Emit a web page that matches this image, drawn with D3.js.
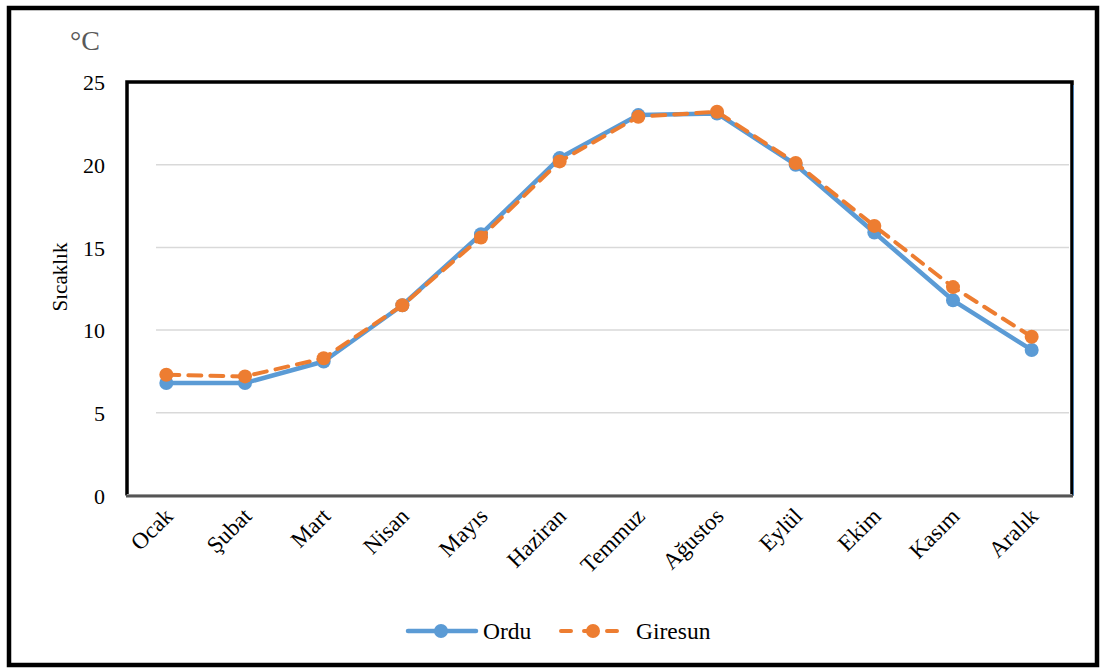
<!DOCTYPE html>
<html>
<head>
<meta charset="utf-8">
<script src="https://cdn.jsdelivr.net/npm/d3@7"></script>
<style>
  html, body { margin: 0; padding: 0; background: #fff; }
  svg { display: block; }
  svg text { font-family: 'Liberation Serif', serif !important; }
</style>
</head>
<body>
<svg id="chart" width="1105" height="670"></svg>
<script>
// Monthly mean temperatures (°C)
const months = ["Ocak", "Şubat", "Mart", "Nisan", "Mayıs", "Haziran", "Temmuz", "Ağustos", "Eylül", "Ekim", "Kasım", "Aralık"];
const ordu = [6.8, 6.8, 8.1, 11.5, 15.8, 20.4, 23.0, 23.1, 20.0, 15.9, 11.8, 8.8];
const giresun = [7.3, 7.2, 8.3, 11.5, 15.6, 20.2, 22.9, 23.2, 20.1, 16.3, 12.6, 9.6];
const yTicks = [0, 5, 10, 15, 20, 25];
const seriesNames = ["Ordu", "Giresun"];

const serif = "'Liberation Serif', serif";
const svg = d3.select("#chart");
const plot = { left: 127, right: 1071, top: 82, bottom: 495.5 };

const x = d3.scaleBand().domain(months).range([plot.left, plot.right]);
const y = d3.scaleLinear().domain([0, 25]).range([plot.bottom, plot.top]);

// Outer frame
svg.append("rect")
  .attr("x", 9).attr("y", 8).attr("width", 1088).attr("height", 657)
  .attr("fill", "none").attr("stroke", "#000").attr("stroke-width", 4.5);

// Horizontal gridlines
svg.append("g").selectAll("line")
  .data(yTicks.filter(d => d > 0 && d < 25))
  .join("line")
  .attr("x1", 156).attr("x2", plot.right - 2)
  .attr("y1", d => y(d)).attr("y2", d => y(d))
  .attr("stroke", "#d9d9d9").attr("stroke-width", 1.5);

// Plot box
svg.append("path")
  .attr("d", `M${plot.left},${plot.bottom} V${plot.top} H${plot.right + 1} V${plot.bottom}`)
  .attr("fill", "none").attr("stroke", "#000").attr("stroke-width", 3.5);
svg.append("line")
  .attr("x1", plot.right + 2.5).attr("x2", plot.right + 2.5)
  .attr("y1", plot.top + 3).attr("y2", plot.bottom)
  .attr("stroke", "#4a7fb5").attr("stroke-width", 1);
svg.append("line")
  .attr("x1", plot.left - 1).attr("x2", plot.right + 2)
  .attr("y1", plot.bottom + 0.5).attr("y2", plot.bottom + 0.5)
  .attr("stroke", "#555").attr("stroke-width", 3);
svg.append("line")
  .attr("x1", plot.left).attr("x2", plot.right + 1)
  .attr("y1", plot.bottom - 1).attr("y2", plot.bottom - 1)
  .attr("stroke", "#999").attr("stroke-width", 1);

// Y axis tick labels
const yAxis = d3.axisLeft(y).tickValues(yTicks).tickSize(0).tickPadding(0);
const yg = svg.append("g").attr("transform", `translate(105,0)`).call(yAxis)
  .attr("font-family", serif);
yg.select(".domain").remove();
yg.selectAll("text")
  .style("font-family", serif)
  .attr("font-size", 22).attr("fill", "#000").attr("dy", "0.35em");

// X axis labels, rotated
const xAxis = d3.axisBottom(x).tickSize(0).tickPadding(0);
const xg = svg.append("g").attr("transform", `translate(0,${plot.bottom})`).call(xAxis)
  .attr("font-family", serif);
xg.select(".domain").remove();
xg.selectAll("text")
  .style("font-family", serif)
  .attr("font-size", 23).attr("fill", "#000")
  .attr("text-anchor", "end")
  .attr("dy", 0).attr("y", 0)
  .attr("transform", "translate(8,22) rotate(-45)");

// Axis titles
svg.append("text")
  .style("font-family", serif)
  .attr("x", 70).attr("y", 50)
  .attr("font-size", 28).attr("fill", "#595959")
  .text("°C");
svg.append("text")
  .style("font-family", serif)
  .attr("transform", "translate(67,277) rotate(-90)")
  .attr("text-anchor", "middle")
  .attr("font-size", 21).attr("fill", "#000")
  .text("Sıcaklık");

// Series
const line = d3.line().x((d, i) => x(months[i]) + x.bandwidth() / 2).y(d => y(d));
const styles = [
  { data: ordu, color: "#5b9bd5", dash: null, width: 4.5 },
  { data: giresun, color: "#ed7d31", dash: "13,9", width: 4 }
];

styles.forEach(s => {
  svg.append("path")
    .datum(s.data)
    .attr("d", line)
    .attr("fill", "none")
    .attr("stroke", s.color)
    .attr("stroke-width", s.width)
    .attr("stroke-linejoin", "round")
    .attr("stroke-linecap", s.dash ? "round" : "butt")
    .attr("stroke-dasharray", s.dash);
  svg.append("g").selectAll("circle")
    .data(s.data)
    .join("circle")
    .attr("cx", (d, i) => x(months[i]) + x.bandwidth() / 2)
    .attr("cy", d => y(d))
    .attr("r", 7)
    .attr("fill", s.color);
});

// Legend
const legendY = 631;
const legendItems = [
  { x0: 408, x1: 476, cx: 441, tx: 483 },
  { x0: 561, x1: 623, cx: 593, tx: 636 }
];
legendItems.forEach((l, i) => {
  const s = styles[i];
  svg.append("line")
    .attr("x1", l.x0).attr("x2", l.x1)
    .attr("y1", legendY).attr("y2", legendY)
    .attr("stroke", s.color).attr("stroke-width", s.width)
    .attr("stroke-linecap", "round")
    .attr("stroke-dasharray", s.dash ? "10,13" : null);
  svg.append("circle")
    .attr("cx", l.cx).attr("cy", legendY).attr("r", 7)
    .attr("fill", s.color);
  svg.append("text")
    .style("font-family", serif)
    .attr("x", l.tx).attr("y", legendY + 8)
    .attr("font-size", 23.5).attr("fill", "#000")
    .text(seriesNames[i]);
});
</script>
</body>
</html>
